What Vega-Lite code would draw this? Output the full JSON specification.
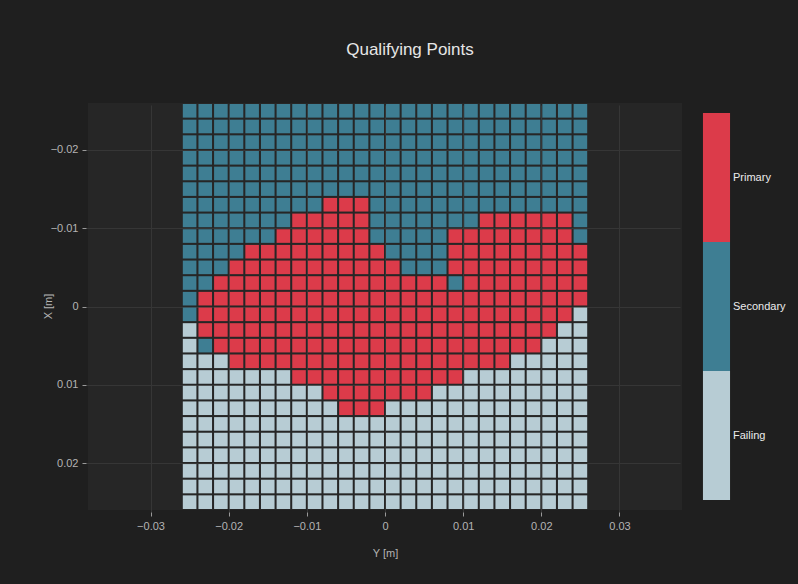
{
"$schema":"https://vega.github.io/schema/vega-lite/v6.json",
"width":594,"height":407,
"autosize":{"type":"none"},
"padding":{"left":88,"top":103,"right":116,"bottom":74},
"background":"#1f1f1f",
"title":{"text":"Qualifying Points","fontSize":17,"font":"Liberation Sans","fontWeight":"normal","color":"#e6e6e6","offset":44,"dx":25},
"config":{
"view":{"fill":"#262626","stroke":null},
"axis":{"domain":false,"tickColor":"#9a9a9a","tickSize":4,"offset":2,"labelColor":"#b4b4b4","labelFontSize":11,"labelFont":"Liberation Sans","labelPadding":4,"gridColor":"#363636","gridWidth":1,"titleColor":"#b4b4b4","titleFontSize":11,"titleFont":"Liberation Sans","titleFontWeight":"normal"}
},
"data":{"values":[
{"X":-0.025,"Y":-0.025,"s":"S"},{"X":-0.025,"Y":-0.023,"s":"S"},{"X":-0.025,"Y":-0.021,"s":"S"},{"X":-0.025,"Y":-0.019,"s":"S"},{"X":-0.025,"Y":-0.017,"s":"S"},{"X":-0.025,"Y":-0.015,"s":"S"},{"X":-0.025,"Y":-0.013,"s":"S"},{"X":-0.025,"Y":-0.011,"s":"S"},{"X":-0.025,"Y":-0.009,"s":"S"},{"X":-0.025,"Y":-0.007,"s":"S"},{"X":-0.025,"Y":-0.005,"s":"S"},{"X":-0.025,"Y":-0.003,"s":"S"},{"X":-0.025,"Y":-0.001,"s":"S"},{"X":-0.025,"Y":0.001,"s":"S"},{"X":-0.025,"Y":0.003,"s":"S"},{"X":-0.025,"Y":0.005,"s":"S"},{"X":-0.025,"Y":0.007,"s":"S"},{"X":-0.025,"Y":0.009,"s":"S"},{"X":-0.025,"Y":0.011,"s":"S"},{"X":-0.025,"Y":0.013,"s":"S"},{"X":-0.025,"Y":0.015,"s":"S"},{"X":-0.025,"Y":0.017,"s":"S"},{"X":-0.025,"Y":0.019,"s":"S"},{"X":-0.025,"Y":0.021,"s":"S"},{"X":-0.025,"Y":0.023,"s":"S"},{"X":-0.025,"Y":0.025,"s":"S"},
{"X":-0.023,"Y":-0.025,"s":"S"},{"X":-0.023,"Y":-0.023,"s":"S"},{"X":-0.023,"Y":-0.021,"s":"S"},{"X":-0.023,"Y":-0.019,"s":"S"},{"X":-0.023,"Y":-0.017,"s":"S"},{"X":-0.023,"Y":-0.015,"s":"S"},{"X":-0.023,"Y":-0.013,"s":"S"},{"X":-0.023,"Y":-0.011,"s":"S"},{"X":-0.023,"Y":-0.009,"s":"S"},{"X":-0.023,"Y":-0.007,"s":"S"},{"X":-0.023,"Y":-0.005,"s":"S"},{"X":-0.023,"Y":-0.003,"s":"S"},{"X":-0.023,"Y":-0.001,"s":"S"},{"X":-0.023,"Y":0.001,"s":"S"},{"X":-0.023,"Y":0.003,"s":"S"},{"X":-0.023,"Y":0.005,"s":"S"},{"X":-0.023,"Y":0.007,"s":"S"},{"X":-0.023,"Y":0.009,"s":"S"},{"X":-0.023,"Y":0.011,"s":"S"},{"X":-0.023,"Y":0.013,"s":"S"},{"X":-0.023,"Y":0.015,"s":"S"},{"X":-0.023,"Y":0.017,"s":"S"},{"X":-0.023,"Y":0.019,"s":"S"},{"X":-0.023,"Y":0.021,"s":"S"},{"X":-0.023,"Y":0.023,"s":"S"},{"X":-0.023,"Y":0.025,"s":"S"},
{"X":-0.021,"Y":-0.025,"s":"S"},{"X":-0.021,"Y":-0.023,"s":"S"},{"X":-0.021,"Y":-0.021,"s":"S"},{"X":-0.021,"Y":-0.019,"s":"S"},{"X":-0.021,"Y":-0.017,"s":"S"},{"X":-0.021,"Y":-0.015,"s":"S"},{"X":-0.021,"Y":-0.013,"s":"S"},{"X":-0.021,"Y":-0.011,"s":"S"},{"X":-0.021,"Y":-0.009,"s":"S"},{"X":-0.021,"Y":-0.007,"s":"S"},{"X":-0.021,"Y":-0.005,"s":"S"},{"X":-0.021,"Y":-0.003,"s":"S"},{"X":-0.021,"Y":-0.001,"s":"S"},{"X":-0.021,"Y":0.001,"s":"S"},{"X":-0.021,"Y":0.003,"s":"S"},{"X":-0.021,"Y":0.005,"s":"S"},{"X":-0.021,"Y":0.007,"s":"S"},{"X":-0.021,"Y":0.009,"s":"S"},{"X":-0.021,"Y":0.011,"s":"S"},{"X":-0.021,"Y":0.013,"s":"S"},{"X":-0.021,"Y":0.015,"s":"S"},{"X":-0.021,"Y":0.017,"s":"S"},{"X":-0.021,"Y":0.019,"s":"S"},{"X":-0.021,"Y":0.021,"s":"S"},{"X":-0.021,"Y":0.023,"s":"S"},{"X":-0.021,"Y":0.025,"s":"S"},
{"X":-0.019,"Y":-0.025,"s":"S"},{"X":-0.019,"Y":-0.023,"s":"S"},{"X":-0.019,"Y":-0.021,"s":"S"},{"X":-0.019,"Y":-0.019,"s":"S"},{"X":-0.019,"Y":-0.017,"s":"S"},{"X":-0.019,"Y":-0.015,"s":"S"},{"X":-0.019,"Y":-0.013,"s":"S"},{"X":-0.019,"Y":-0.011,"s":"S"},{"X":-0.019,"Y":-0.009,"s":"S"},{"X":-0.019,"Y":-0.007,"s":"S"},{"X":-0.019,"Y":-0.005,"s":"S"},{"X":-0.019,"Y":-0.003,"s":"S"},{"X":-0.019,"Y":-0.001,"s":"S"},{"X":-0.019,"Y":0.001,"s":"S"},{"X":-0.019,"Y":0.003,"s":"S"},{"X":-0.019,"Y":0.005,"s":"S"},{"X":-0.019,"Y":0.007,"s":"S"},{"X":-0.019,"Y":0.009,"s":"S"},{"X":-0.019,"Y":0.011,"s":"S"},{"X":-0.019,"Y":0.013,"s":"S"},{"X":-0.019,"Y":0.015,"s":"S"},{"X":-0.019,"Y":0.017,"s":"S"},{"X":-0.019,"Y":0.019,"s":"S"},{"X":-0.019,"Y":0.021,"s":"S"},{"X":-0.019,"Y":0.023,"s":"S"},{"X":-0.019,"Y":0.025,"s":"S"},
{"X":-0.017,"Y":-0.025,"s":"S"},{"X":-0.017,"Y":-0.023,"s":"S"},{"X":-0.017,"Y":-0.021,"s":"S"},{"X":-0.017,"Y":-0.019,"s":"S"},{"X":-0.017,"Y":-0.017,"s":"S"},{"X":-0.017,"Y":-0.015,"s":"S"},{"X":-0.017,"Y":-0.013,"s":"S"},{"X":-0.017,"Y":-0.011,"s":"S"},{"X":-0.017,"Y":-0.009,"s":"S"},{"X":-0.017,"Y":-0.007,"s":"S"},{"X":-0.017,"Y":-0.005,"s":"S"},{"X":-0.017,"Y":-0.003,"s":"S"},{"X":-0.017,"Y":-0.001,"s":"S"},{"X":-0.017,"Y":0.001,"s":"S"},{"X":-0.017,"Y":0.003,"s":"S"},{"X":-0.017,"Y":0.005,"s":"S"},{"X":-0.017,"Y":0.007,"s":"S"},{"X":-0.017,"Y":0.009,"s":"S"},{"X":-0.017,"Y":0.011,"s":"S"},{"X":-0.017,"Y":0.013,"s":"S"},{"X":-0.017,"Y":0.015,"s":"S"},{"X":-0.017,"Y":0.017,"s":"S"},{"X":-0.017,"Y":0.019,"s":"S"},{"X":-0.017,"Y":0.021,"s":"S"},{"X":-0.017,"Y":0.023,"s":"S"},{"X":-0.017,"Y":0.025,"s":"S"},
{"X":-0.015,"Y":-0.025,"s":"S"},{"X":-0.015,"Y":-0.023,"s":"S"},{"X":-0.015,"Y":-0.021,"s":"S"},{"X":-0.015,"Y":-0.019,"s":"S"},{"X":-0.015,"Y":-0.017,"s":"S"},{"X":-0.015,"Y":-0.015,"s":"S"},{"X":-0.015,"Y":-0.013,"s":"S"},{"X":-0.015,"Y":-0.011,"s":"S"},{"X":-0.015,"Y":-0.009,"s":"S"},{"X":-0.015,"Y":-0.007,"s":"S"},{"X":-0.015,"Y":-0.005,"s":"S"},{"X":-0.015,"Y":-0.003,"s":"S"},{"X":-0.015,"Y":-0.001,"s":"S"},{"X":-0.015,"Y":0.001,"s":"S"},{"X":-0.015,"Y":0.003,"s":"S"},{"X":-0.015,"Y":0.005,"s":"S"},{"X":-0.015,"Y":0.007,"s":"S"},{"X":-0.015,"Y":0.009,"s":"S"},{"X":-0.015,"Y":0.011,"s":"S"},{"X":-0.015,"Y":0.013,"s":"S"},{"X":-0.015,"Y":0.015,"s":"S"},{"X":-0.015,"Y":0.017,"s":"S"},{"X":-0.015,"Y":0.019,"s":"S"},{"X":-0.015,"Y":0.021,"s":"S"},{"X":-0.015,"Y":0.023,"s":"S"},{"X":-0.015,"Y":0.025,"s":"S"},
{"X":-0.013,"Y":-0.025,"s":"S"},{"X":-0.013,"Y":-0.023,"s":"S"},{"X":-0.013,"Y":-0.021,"s":"S"},{"X":-0.013,"Y":-0.019,"s":"S"},{"X":-0.013,"Y":-0.017,"s":"S"},{"X":-0.013,"Y":-0.015,"s":"S"},{"X":-0.013,"Y":-0.013,"s":"S"},{"X":-0.013,"Y":-0.011,"s":"S"},{"X":-0.013,"Y":-0.009,"s":"S"},{"X":-0.013,"Y":-0.007,"s":"P"},{"X":-0.013,"Y":-0.005,"s":"P"},{"X":-0.013,"Y":-0.003,"s":"P"},{"X":-0.013,"Y":-0.001,"s":"S"},{"X":-0.013,"Y":0.001,"s":"S"},{"X":-0.013,"Y":0.003,"s":"S"},{"X":-0.013,"Y":0.005,"s":"S"},{"X":-0.013,"Y":0.007,"s":"S"},{"X":-0.013,"Y":0.009,"s":"S"},{"X":-0.013,"Y":0.011,"s":"S"},{"X":-0.013,"Y":0.013,"s":"S"},{"X":-0.013,"Y":0.015,"s":"S"},{"X":-0.013,"Y":0.017,"s":"S"},{"X":-0.013,"Y":0.019,"s":"S"},{"X":-0.013,"Y":0.021,"s":"S"},{"X":-0.013,"Y":0.023,"s":"S"},{"X":-0.013,"Y":0.025,"s":"S"},
{"X":-0.011,"Y":-0.025,"s":"S"},{"X":-0.011,"Y":-0.023,"s":"S"},{"X":-0.011,"Y":-0.021,"s":"S"},{"X":-0.011,"Y":-0.019,"s":"S"},{"X":-0.011,"Y":-0.017,"s":"S"},{"X":-0.011,"Y":-0.015,"s":"S"},{"X":-0.011,"Y":-0.013,"s":"S"},{"X":-0.011,"Y":-0.011,"s":"P"},{"X":-0.011,"Y":-0.009,"s":"P"},{"X":-0.011,"Y":-0.007,"s":"P"},{"X":-0.011,"Y":-0.005,"s":"P"},{"X":-0.011,"Y":-0.003,"s":"P"},{"X":-0.011,"Y":-0.001,"s":"S"},{"X":-0.011,"Y":0.001,"s":"S"},{"X":-0.011,"Y":0.003,"s":"S"},{"X":-0.011,"Y":0.005,"s":"S"},{"X":-0.011,"Y":0.007,"s":"S"},{"X":-0.011,"Y":0.009,"s":"S"},{"X":-0.011,"Y":0.011,"s":"S"},{"X":-0.011,"Y":0.013,"s":"P"},{"X":-0.011,"Y":0.015,"s":"P"},{"X":-0.011,"Y":0.017,"s":"P"},{"X":-0.011,"Y":0.019,"s":"P"},{"X":-0.011,"Y":0.021,"s":"P"},{"X":-0.011,"Y":0.023,"s":"P"},{"X":-0.011,"Y":0.025,"s":"S"},
{"X":-0.009,"Y":-0.025,"s":"S"},{"X":-0.009,"Y":-0.023,"s":"S"},{"X":-0.009,"Y":-0.021,"s":"S"},{"X":-0.009,"Y":-0.019,"s":"S"},{"X":-0.009,"Y":-0.017,"s":"S"},{"X":-0.009,"Y":-0.015,"s":"S"},{"X":-0.009,"Y":-0.013,"s":"P"},{"X":-0.009,"Y":-0.011,"s":"P"},{"X":-0.009,"Y":-0.009,"s":"P"},{"X":-0.009,"Y":-0.007,"s":"P"},{"X":-0.009,"Y":-0.005,"s":"P"},{"X":-0.009,"Y":-0.003,"s":"P"},{"X":-0.009,"Y":-0.001,"s":"S"},{"X":-0.009,"Y":0.001,"s":"S"},{"X":-0.009,"Y":0.003,"s":"S"},{"X":-0.009,"Y":0.005,"s":"S"},{"X":-0.009,"Y":0.007,"s":"S"},{"X":-0.009,"Y":0.009,"s":"P"},{"X":-0.009,"Y":0.011,"s":"P"},{"X":-0.009,"Y":0.013,"s":"P"},{"X":-0.009,"Y":0.015,"s":"P"},{"X":-0.009,"Y":0.017,"s":"P"},{"X":-0.009,"Y":0.019,"s":"P"},{"X":-0.009,"Y":0.021,"s":"P"},{"X":-0.009,"Y":0.023,"s":"P"},{"X":-0.009,"Y":0.025,"s":"S"},
{"X":-0.007,"Y":-0.025,"s":"S"},{"X":-0.007,"Y":-0.023,"s":"S"},{"X":-0.007,"Y":-0.021,"s":"S"},{"X":-0.007,"Y":-0.019,"s":"S"},{"X":-0.007,"Y":-0.017,"s":"P"},{"X":-0.007,"Y":-0.015,"s":"P"},{"X":-0.007,"Y":-0.013,"s":"P"},{"X":-0.007,"Y":-0.011,"s":"P"},{"X":-0.007,"Y":-0.009,"s":"P"},{"X":-0.007,"Y":-0.007,"s":"P"},{"X":-0.007,"Y":-0.005,"s":"P"},{"X":-0.007,"Y":-0.003,"s":"P"},{"X":-0.007,"Y":-0.001,"s":"P"},{"X":-0.007,"Y":0.001,"s":"S"},{"X":-0.007,"Y":0.003,"s":"S"},{"X":-0.007,"Y":0.005,"s":"S"},{"X":-0.007,"Y":0.007,"s":"S"},{"X":-0.007,"Y":0.009,"s":"P"},{"X":-0.007,"Y":0.011,"s":"P"},{"X":-0.007,"Y":0.013,"s":"P"},{"X":-0.007,"Y":0.015,"s":"P"},{"X":-0.007,"Y":0.017,"s":"P"},{"X":-0.007,"Y":0.019,"s":"P"},{"X":-0.007,"Y":0.021,"s":"P"},{"X":-0.007,"Y":0.023,"s":"P"},{"X":-0.007,"Y":0.025,"s":"P"},
{"X":-0.005,"Y":-0.025,"s":"S"},{"X":-0.005,"Y":-0.023,"s":"S"},{"X":-0.005,"Y":-0.021,"s":"S"},{"X":-0.005,"Y":-0.019,"s":"P"},{"X":-0.005,"Y":-0.017,"s":"P"},{"X":-0.005,"Y":-0.015,"s":"P"},{"X":-0.005,"Y":-0.013,"s":"P"},{"X":-0.005,"Y":-0.011,"s":"P"},{"X":-0.005,"Y":-0.009,"s":"P"},{"X":-0.005,"Y":-0.007,"s":"P"},{"X":-0.005,"Y":-0.005,"s":"P"},{"X":-0.005,"Y":-0.003,"s":"P"},{"X":-0.005,"Y":-0.001,"s":"P"},{"X":-0.005,"Y":0.001,"s":"P"},{"X":-0.005,"Y":0.003,"s":"S"},{"X":-0.005,"Y":0.005,"s":"S"},{"X":-0.005,"Y":0.007,"s":"S"},{"X":-0.005,"Y":0.009,"s":"P"},{"X":-0.005,"Y":0.011,"s":"P"},{"X":-0.005,"Y":0.013,"s":"P"},{"X":-0.005,"Y":0.015,"s":"P"},{"X":-0.005,"Y":0.017,"s":"P"},{"X":-0.005,"Y":0.019,"s":"P"},{"X":-0.005,"Y":0.021,"s":"P"},{"X":-0.005,"Y":0.023,"s":"P"},{"X":-0.005,"Y":0.025,"s":"P"},
{"X":-0.003,"Y":-0.025,"s":"S"},{"X":-0.003,"Y":-0.023,"s":"S"},{"X":-0.003,"Y":-0.021,"s":"P"},{"X":-0.003,"Y":-0.019,"s":"P"},{"X":-0.003,"Y":-0.017,"s":"P"},{"X":-0.003,"Y":-0.015,"s":"P"},{"X":-0.003,"Y":-0.013,"s":"P"},{"X":-0.003,"Y":-0.011,"s":"P"},{"X":-0.003,"Y":-0.009,"s":"P"},{"X":-0.003,"Y":-0.007,"s":"P"},{"X":-0.003,"Y":-0.005,"s":"P"},{"X":-0.003,"Y":-0.003,"s":"P"},{"X":-0.003,"Y":-0.001,"s":"P"},{"X":-0.003,"Y":0.001,"s":"P"},{"X":-0.003,"Y":0.003,"s":"P"},{"X":-0.003,"Y":0.005,"s":"P"},{"X":-0.003,"Y":0.007,"s":"P"},{"X":-0.003,"Y":0.009,"s":"S"},{"X":-0.003,"Y":0.011,"s":"P"},{"X":-0.003,"Y":0.013,"s":"P"},{"X":-0.003,"Y":0.015,"s":"P"},{"X":-0.003,"Y":0.017,"s":"P"},{"X":-0.003,"Y":0.019,"s":"P"},{"X":-0.003,"Y":0.021,"s":"P"},{"X":-0.003,"Y":0.023,"s":"P"},{"X":-0.003,"Y":0.025,"s":"P"},
{"X":-0.001,"Y":-0.025,"s":"S"},{"X":-0.001,"Y":-0.023,"s":"P"},{"X":-0.001,"Y":-0.021,"s":"P"},{"X":-0.001,"Y":-0.019,"s":"P"},{"X":-0.001,"Y":-0.017,"s":"P"},{"X":-0.001,"Y":-0.015,"s":"P"},{"X":-0.001,"Y":-0.013,"s":"P"},{"X":-0.001,"Y":-0.011,"s":"P"},{"X":-0.001,"Y":-0.009,"s":"P"},{"X":-0.001,"Y":-0.007,"s":"P"},{"X":-0.001,"Y":-0.005,"s":"P"},{"X":-0.001,"Y":-0.003,"s":"P"},{"X":-0.001,"Y":-0.001,"s":"P"},{"X":-0.001,"Y":0.001,"s":"P"},{"X":-0.001,"Y":0.003,"s":"P"},{"X":-0.001,"Y":0.005,"s":"P"},{"X":-0.001,"Y":0.007,"s":"P"},{"X":-0.001,"Y":0.009,"s":"P"},{"X":-0.001,"Y":0.011,"s":"P"},{"X":-0.001,"Y":0.013,"s":"P"},{"X":-0.001,"Y":0.015,"s":"P"},{"X":-0.001,"Y":0.017,"s":"P"},{"X":-0.001,"Y":0.019,"s":"P"},{"X":-0.001,"Y":0.021,"s":"P"},{"X":-0.001,"Y":0.023,"s":"P"},{"X":-0.001,"Y":0.025,"s":"P"},
{"X":0.001,"Y":-0.025,"s":"S"},{"X":0.001,"Y":-0.023,"s":"P"},{"X":0.001,"Y":-0.021,"s":"P"},{"X":0.001,"Y":-0.019,"s":"P"},{"X":0.001,"Y":-0.017,"s":"P"},{"X":0.001,"Y":-0.015,"s":"P"},{"X":0.001,"Y":-0.013,"s":"P"},{"X":0.001,"Y":-0.011,"s":"P"},{"X":0.001,"Y":-0.009,"s":"P"},{"X":0.001,"Y":-0.007,"s":"P"},{"X":0.001,"Y":-0.005,"s":"P"},{"X":0.001,"Y":-0.003,"s":"P"},{"X":0.001,"Y":-0.001,"s":"P"},{"X":0.001,"Y":0.001,"s":"P"},{"X":0.001,"Y":0.003,"s":"P"},{"X":0.001,"Y":0.005,"s":"P"},{"X":0.001,"Y":0.007,"s":"P"},{"X":0.001,"Y":0.009,"s":"P"},{"X":0.001,"Y":0.011,"s":"P"},{"X":0.001,"Y":0.013,"s":"P"},{"X":0.001,"Y":0.015,"s":"P"},{"X":0.001,"Y":0.017,"s":"P"},{"X":0.001,"Y":0.019,"s":"P"},{"X":0.001,"Y":0.021,"s":"P"},{"X":0.001,"Y":0.023,"s":"P"},{"X":0.001,"Y":0.025,"s":"F"},
{"X":0.003,"Y":-0.025,"s":"F"},{"X":0.003,"Y":-0.023,"s":"P"},{"X":0.003,"Y":-0.021,"s":"P"},{"X":0.003,"Y":-0.019,"s":"P"},{"X":0.003,"Y":-0.017,"s":"P"},{"X":0.003,"Y":-0.015,"s":"P"},{"X":0.003,"Y":-0.013,"s":"P"},{"X":0.003,"Y":-0.011,"s":"P"},{"X":0.003,"Y":-0.009,"s":"P"},{"X":0.003,"Y":-0.007,"s":"P"},{"X":0.003,"Y":-0.005,"s":"P"},{"X":0.003,"Y":-0.003,"s":"P"},{"X":0.003,"Y":-0.001,"s":"P"},{"X":0.003,"Y":0.001,"s":"P"},{"X":0.003,"Y":0.003,"s":"P"},{"X":0.003,"Y":0.005,"s":"P"},{"X":0.003,"Y":0.007,"s":"P"},{"X":0.003,"Y":0.009,"s":"P"},{"X":0.003,"Y":0.011,"s":"P"},{"X":0.003,"Y":0.013,"s":"P"},{"X":0.003,"Y":0.015,"s":"P"},{"X":0.003,"Y":0.017,"s":"P"},{"X":0.003,"Y":0.019,"s":"P"},{"X":0.003,"Y":0.021,"s":"P"},{"X":0.003,"Y":0.023,"s":"F"},{"X":0.003,"Y":0.025,"s":"F"},
{"X":0.005,"Y":-0.025,"s":"F"},{"X":0.005,"Y":-0.023,"s":"S"},{"X":0.005,"Y":-0.021,"s":"P"},{"X":0.005,"Y":-0.019,"s":"P"},{"X":0.005,"Y":-0.017,"s":"P"},{"X":0.005,"Y":-0.015,"s":"P"},{"X":0.005,"Y":-0.013,"s":"P"},{"X":0.005,"Y":-0.011,"s":"P"},{"X":0.005,"Y":-0.009,"s":"P"},{"X":0.005,"Y":-0.007,"s":"P"},{"X":0.005,"Y":-0.005,"s":"P"},{"X":0.005,"Y":-0.003,"s":"P"},{"X":0.005,"Y":-0.001,"s":"P"},{"X":0.005,"Y":0.001,"s":"P"},{"X":0.005,"Y":0.003,"s":"P"},{"X":0.005,"Y":0.005,"s":"P"},{"X":0.005,"Y":0.007,"s":"P"},{"X":0.005,"Y":0.009,"s":"P"},{"X":0.005,"Y":0.011,"s":"P"},{"X":0.005,"Y":0.013,"s":"P"},{"X":0.005,"Y":0.015,"s":"P"},{"X":0.005,"Y":0.017,"s":"P"},{"X":0.005,"Y":0.019,"s":"P"},{"X":0.005,"Y":0.021,"s":"F"},{"X":0.005,"Y":0.023,"s":"F"},{"X":0.005,"Y":0.025,"s":"F"},
{"X":0.007,"Y":-0.025,"s":"F"},{"X":0.007,"Y":-0.023,"s":"F"},{"X":0.007,"Y":-0.021,"s":"F"},{"X":0.007,"Y":-0.019,"s":"P"},{"X":0.007,"Y":-0.017,"s":"P"},{"X":0.007,"Y":-0.015,"s":"P"},{"X":0.007,"Y":-0.013,"s":"P"},{"X":0.007,"Y":-0.011,"s":"P"},{"X":0.007,"Y":-0.009,"s":"P"},{"X":0.007,"Y":-0.007,"s":"P"},{"X":0.007,"Y":-0.005,"s":"P"},{"X":0.007,"Y":-0.003,"s":"P"},{"X":0.007,"Y":-0.001,"s":"P"},{"X":0.007,"Y":0.001,"s":"P"},{"X":0.007,"Y":0.003,"s":"P"},{"X":0.007,"Y":0.005,"s":"P"},{"X":0.007,"Y":0.007,"s":"P"},{"X":0.007,"Y":0.009,"s":"P"},{"X":0.007,"Y":0.011,"s":"P"},{"X":0.007,"Y":0.013,"s":"P"},{"X":0.007,"Y":0.015,"s":"P"},{"X":0.007,"Y":0.017,"s":"F"},{"X":0.007,"Y":0.019,"s":"F"},{"X":0.007,"Y":0.021,"s":"F"},{"X":0.007,"Y":0.023,"s":"F"},{"X":0.007,"Y":0.025,"s":"F"},
{"X":0.009,"Y":-0.025,"s":"F"},{"X":0.009,"Y":-0.023,"s":"F"},{"X":0.009,"Y":-0.021,"s":"F"},{"X":0.009,"Y":-0.019,"s":"F"},{"X":0.009,"Y":-0.017,"s":"F"},{"X":0.009,"Y":-0.015,"s":"F"},{"X":0.009,"Y":-0.013,"s":"F"},{"X":0.009,"Y":-0.011,"s":"P"},{"X":0.009,"Y":-0.009,"s":"P"},{"X":0.009,"Y":-0.007,"s":"P"},{"X":0.009,"Y":-0.005,"s":"P"},{"X":0.009,"Y":-0.003,"s":"P"},{"X":0.009,"Y":-0.001,"s":"P"},{"X":0.009,"Y":0.001,"s":"P"},{"X":0.009,"Y":0.003,"s":"P"},{"X":0.009,"Y":0.005,"s":"P"},{"X":0.009,"Y":0.007,"s":"P"},{"X":0.009,"Y":0.009,"s":"P"},{"X":0.009,"Y":0.011,"s":"F"},{"X":0.009,"Y":0.013,"s":"F"},{"X":0.009,"Y":0.015,"s":"F"},{"X":0.009,"Y":0.017,"s":"F"},{"X":0.009,"Y":0.019,"s":"F"},{"X":0.009,"Y":0.021,"s":"F"},{"X":0.009,"Y":0.023,"s":"F"},{"X":0.009,"Y":0.025,"s":"F"},
{"X":0.011,"Y":-0.025,"s":"F"},{"X":0.011,"Y":-0.023,"s":"F"},{"X":0.011,"Y":-0.021,"s":"F"},{"X":0.011,"Y":-0.019,"s":"F"},{"X":0.011,"Y":-0.017,"s":"F"},{"X":0.011,"Y":-0.015,"s":"F"},{"X":0.011,"Y":-0.013,"s":"F"},{"X":0.011,"Y":-0.011,"s":"F"},{"X":0.011,"Y":-0.009,"s":"F"},{"X":0.011,"Y":-0.007,"s":"P"},{"X":0.011,"Y":-0.005,"s":"P"},{"X":0.011,"Y":-0.003,"s":"P"},{"X":0.011,"Y":-0.001,"s":"P"},{"X":0.011,"Y":0.001,"s":"P"},{"X":0.011,"Y":0.003,"s":"P"},{"X":0.011,"Y":0.005,"s":"P"},{"X":0.011,"Y":0.007,"s":"F"},{"X":0.011,"Y":0.009,"s":"F"},{"X":0.011,"Y":0.011,"s":"F"},{"X":0.011,"Y":0.013,"s":"F"},{"X":0.011,"Y":0.015,"s":"F"},{"X":0.011,"Y":0.017,"s":"F"},{"X":0.011,"Y":0.019,"s":"F"},{"X":0.011,"Y":0.021,"s":"F"},{"X":0.011,"Y":0.023,"s":"F"},{"X":0.011,"Y":0.025,"s":"F"},
{"X":0.013,"Y":-0.025,"s":"F"},{"X":0.013,"Y":-0.023,"s":"F"},{"X":0.013,"Y":-0.021,"s":"F"},{"X":0.013,"Y":-0.019,"s":"F"},{"X":0.013,"Y":-0.017,"s":"F"},{"X":0.013,"Y":-0.015,"s":"F"},{"X":0.013,"Y":-0.013,"s":"F"},{"X":0.013,"Y":-0.011,"s":"F"},{"X":0.013,"Y":-0.009,"s":"F"},{"X":0.013,"Y":-0.007,"s":"F"},{"X":0.013,"Y":-0.005,"s":"P"},{"X":0.013,"Y":-0.003,"s":"P"},{"X":0.013,"Y":-0.001,"s":"P"},{"X":0.013,"Y":0.001,"s":"F"},{"X":0.013,"Y":0.003,"s":"F"},{"X":0.013,"Y":0.005,"s":"F"},{"X":0.013,"Y":0.007,"s":"F"},{"X":0.013,"Y":0.009,"s":"F"},{"X":0.013,"Y":0.011,"s":"F"},{"X":0.013,"Y":0.013,"s":"F"},{"X":0.013,"Y":0.015,"s":"F"},{"X":0.013,"Y":0.017,"s":"F"},{"X":0.013,"Y":0.019,"s":"F"},{"X":0.013,"Y":0.021,"s":"F"},{"X":0.013,"Y":0.023,"s":"F"},{"X":0.013,"Y":0.025,"s":"F"},
{"X":0.015,"Y":-0.025,"s":"F"},{"X":0.015,"Y":-0.023,"s":"F"},{"X":0.015,"Y":-0.021,"s":"F"},{"X":0.015,"Y":-0.019,"s":"F"},{"X":0.015,"Y":-0.017,"s":"F"},{"X":0.015,"Y":-0.015,"s":"F"},{"X":0.015,"Y":-0.013,"s":"F"},{"X":0.015,"Y":-0.011,"s":"F"},{"X":0.015,"Y":-0.009,"s":"F"},{"X":0.015,"Y":-0.007,"s":"F"},{"X":0.015,"Y":-0.005,"s":"F"},{"X":0.015,"Y":-0.003,"s":"F"},{"X":0.015,"Y":-0.001,"s":"F"},{"X":0.015,"Y":0.001,"s":"F"},{"X":0.015,"Y":0.003,"s":"F"},{"X":0.015,"Y":0.005,"s":"F"},{"X":0.015,"Y":0.007,"s":"F"},{"X":0.015,"Y":0.009,"s":"F"},{"X":0.015,"Y":0.011,"s":"F"},{"X":0.015,"Y":0.013,"s":"F"},{"X":0.015,"Y":0.015,"s":"F"},{"X":0.015,"Y":0.017,"s":"F"},{"X":0.015,"Y":0.019,"s":"F"},{"X":0.015,"Y":0.021,"s":"F"},{"X":0.015,"Y":0.023,"s":"F"},{"X":0.015,"Y":0.025,"s":"F"},
{"X":0.017,"Y":-0.025,"s":"F"},{"X":0.017,"Y":-0.023,"s":"F"},{"X":0.017,"Y":-0.021,"s":"F"},{"X":0.017,"Y":-0.019,"s":"F"},{"X":0.017,"Y":-0.017,"s":"F"},{"X":0.017,"Y":-0.015,"s":"F"},{"X":0.017,"Y":-0.013,"s":"F"},{"X":0.017,"Y":-0.011,"s":"F"},{"X":0.017,"Y":-0.009,"s":"F"},{"X":0.017,"Y":-0.007,"s":"F"},{"X":0.017,"Y":-0.005,"s":"F"},{"X":0.017,"Y":-0.003,"s":"F"},{"X":0.017,"Y":-0.001,"s":"F"},{"X":0.017,"Y":0.001,"s":"F"},{"X":0.017,"Y":0.003,"s":"F"},{"X":0.017,"Y":0.005,"s":"F"},{"X":0.017,"Y":0.007,"s":"F"},{"X":0.017,"Y":0.009,"s":"F"},{"X":0.017,"Y":0.011,"s":"F"},{"X":0.017,"Y":0.013,"s":"F"},{"X":0.017,"Y":0.015,"s":"F"},{"X":0.017,"Y":0.017,"s":"F"},{"X":0.017,"Y":0.019,"s":"F"},{"X":0.017,"Y":0.021,"s":"F"},{"X":0.017,"Y":0.023,"s":"F"},{"X":0.017,"Y":0.025,"s":"F"},
{"X":0.019,"Y":-0.025,"s":"F"},{"X":0.019,"Y":-0.023,"s":"F"},{"X":0.019,"Y":-0.021,"s":"F"},{"X":0.019,"Y":-0.019,"s":"F"},{"X":0.019,"Y":-0.017,"s":"F"},{"X":0.019,"Y":-0.015,"s":"F"},{"X":0.019,"Y":-0.013,"s":"F"},{"X":0.019,"Y":-0.011,"s":"F"},{"X":0.019,"Y":-0.009,"s":"F"},{"X":0.019,"Y":-0.007,"s":"F"},{"X":0.019,"Y":-0.005,"s":"F"},{"X":0.019,"Y":-0.003,"s":"F"},{"X":0.019,"Y":-0.001,"s":"F"},{"X":0.019,"Y":0.001,"s":"F"},{"X":0.019,"Y":0.003,"s":"F"},{"X":0.019,"Y":0.005,"s":"F"},{"X":0.019,"Y":0.007,"s":"F"},{"X":0.019,"Y":0.009,"s":"F"},{"X":0.019,"Y":0.011,"s":"F"},{"X":0.019,"Y":0.013,"s":"F"},{"X":0.019,"Y":0.015,"s":"F"},{"X":0.019,"Y":0.017,"s":"F"},{"X":0.019,"Y":0.019,"s":"F"},{"X":0.019,"Y":0.021,"s":"F"},{"X":0.019,"Y":0.023,"s":"F"},{"X":0.019,"Y":0.025,"s":"F"},
{"X":0.021,"Y":-0.025,"s":"F"},{"X":0.021,"Y":-0.023,"s":"F"},{"X":0.021,"Y":-0.021,"s":"F"},{"X":0.021,"Y":-0.019,"s":"F"},{"X":0.021,"Y":-0.017,"s":"F"},{"X":0.021,"Y":-0.015,"s":"F"},{"X":0.021,"Y":-0.013,"s":"F"},{"X":0.021,"Y":-0.011,"s":"F"},{"X":0.021,"Y":-0.009,"s":"F"},{"X":0.021,"Y":-0.007,"s":"F"},{"X":0.021,"Y":-0.005,"s":"F"},{"X":0.021,"Y":-0.003,"s":"F"},{"X":0.021,"Y":-0.001,"s":"F"},{"X":0.021,"Y":0.001,"s":"F"},{"X":0.021,"Y":0.003,"s":"F"},{"X":0.021,"Y":0.005,"s":"F"},{"X":0.021,"Y":0.007,"s":"F"},{"X":0.021,"Y":0.009,"s":"F"},{"X":0.021,"Y":0.011,"s":"F"},{"X":0.021,"Y":0.013,"s":"F"},{"X":0.021,"Y":0.015,"s":"F"},{"X":0.021,"Y":0.017,"s":"F"},{"X":0.021,"Y":0.019,"s":"F"},{"X":0.021,"Y":0.021,"s":"F"},{"X":0.021,"Y":0.023,"s":"F"},{"X":0.021,"Y":0.025,"s":"F"},
{"X":0.023,"Y":-0.025,"s":"F"},{"X":0.023,"Y":-0.023,"s":"F"},{"X":0.023,"Y":-0.021,"s":"F"},{"X":0.023,"Y":-0.019,"s":"F"},{"X":0.023,"Y":-0.017,"s":"F"},{"X":0.023,"Y":-0.015,"s":"F"},{"X":0.023,"Y":-0.013,"s":"F"},{"X":0.023,"Y":-0.011,"s":"F"},{"X":0.023,"Y":-0.009,"s":"F"},{"X":0.023,"Y":-0.007,"s":"F"},{"X":0.023,"Y":-0.005,"s":"F"},{"X":0.023,"Y":-0.003,"s":"F"},{"X":0.023,"Y":-0.001,"s":"F"},{"X":0.023,"Y":0.001,"s":"F"},{"X":0.023,"Y":0.003,"s":"F"},{"X":0.023,"Y":0.005,"s":"F"},{"X":0.023,"Y":0.007,"s":"F"},{"X":0.023,"Y":0.009,"s":"F"},{"X":0.023,"Y":0.011,"s":"F"},{"X":0.023,"Y":0.013,"s":"F"},{"X":0.023,"Y":0.015,"s":"F"},{"X":0.023,"Y":0.017,"s":"F"},{"X":0.023,"Y":0.019,"s":"F"},{"X":0.023,"Y":0.021,"s":"F"},{"X":0.023,"Y":0.023,"s":"F"},{"X":0.023,"Y":0.025,"s":"F"},
{"X":0.025,"Y":-0.025,"s":"F"},{"X":0.025,"Y":-0.023,"s":"F"},{"X":0.025,"Y":-0.021,"s":"F"},{"X":0.025,"Y":-0.019,"s":"F"},{"X":0.025,"Y":-0.017,"s":"F"},{"X":0.025,"Y":-0.015,"s":"F"},{"X":0.025,"Y":-0.013,"s":"F"},{"X":0.025,"Y":-0.011,"s":"F"},{"X":0.025,"Y":-0.009,"s":"F"},{"X":0.025,"Y":-0.007,"s":"F"},{"X":0.025,"Y":-0.005,"s":"F"},{"X":0.025,"Y":-0.003,"s":"F"},{"X":0.025,"Y":-0.001,"s":"F"},{"X":0.025,"Y":0.001,"s":"F"},{"X":0.025,"Y":0.003,"s":"F"},{"X":0.025,"Y":0.005,"s":"F"},{"X":0.025,"Y":0.007,"s":"F"},{"X":0.025,"Y":0.009,"s":"F"},{"X":0.025,"Y":0.011,"s":"F"},{"X":0.025,"Y":0.013,"s":"F"},{"X":0.025,"Y":0.015,"s":"F"},{"X":0.025,"Y":0.017,"s":"F"},{"X":0.025,"Y":0.019,"s":"F"},{"X":0.025,"Y":0.021,"s":"F"},{"X":0.025,"Y":0.023,"s":"F"},{"X":0.025,"Y":0.025,"s":"F"}
]},
"mark":{"type":"square","size":185,"opacity":1,"filled":true},
"encoding":{
"x":{"field":"Y","type":"quantitative","scale":{"domain":[-0.038,0.038],"nice":false,"zero":false},"axis":{"title":"Y [m]","values":[-0.03,-0.02,-0.01,0,0.01,0.02,0.03],"format":"~g","grid":true,"titleX":297,"titleY":41,"titleAlign":"center","titleBaseline":"middle"}},
"y":{"field":"X","type":"quantitative","scale":{"domain":[-0.026,0.026],"nice":false,"zero":false,"reverse":true},"axis":{"title":"X [m]","values":[-0.02,-0.01,0,0.01,0.02],"format":"~g","grid":true,"titleX":-38,"titleY":203,"titleAngle":270,"titleAlign":"center","titleBaseline":"middle"}},
"color":{"field":"s","type":"nominal","scale":{"domain":["P","S","F"],"range":["#dc3b4a","#3e7e93","#b7ccd4"]},"legend":{"orient":"none","legendX":615,"legendY":10,"title":null,"padding":0,"symbolType":"M-0.21,-1H0.21V1H-0.21Z","symbolSize":16641,"symbolOffset":-51,"labelOffset":-48,"rowPadding":0,"symbolStrokeWidth":0,"symbolOpacity":1,"labelColor":"#ececec","labelFontSize":11,"labelFont":"Liberation Sans","labelBaseline":"middle","labelExpr":"datum.label == 'P' ? 'Primary' : datum.label == 'S' ? 'Secondary' : 'Failing'"}}
}
}
